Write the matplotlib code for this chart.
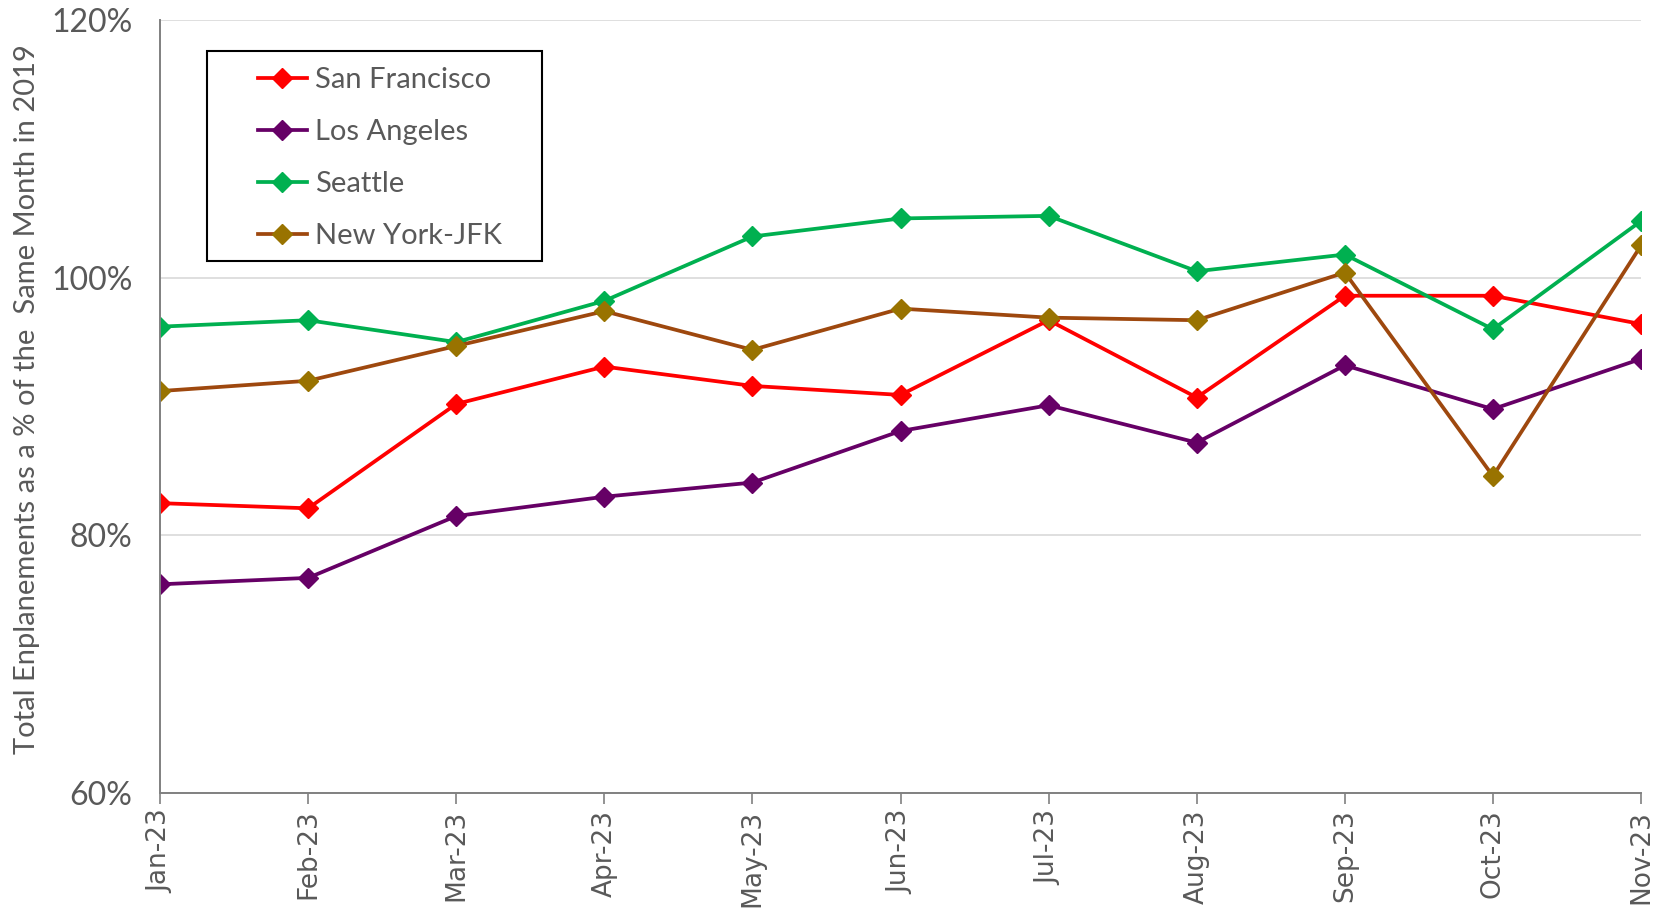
import matplotlib.pyplot as plt
from matplotlib.patches import Rectangle
from matplotlib.ticker import FuncFormatter

months = ["Jan-23", "Feb-23", "Mar-23", "Apr-23", "May-23", "Jun-23",
          "Jul-23", "Aug-23", "Sep-23", "Oct-23", "Nov-23"]
san_francisco = [82.5, 82.1, 90.2, 93.1, 91.6, 90.9, 96.7, 90.7, 98.6, 98.6, 96.4]
los_angeles = [76.2, 76.7, 81.5, 83.0, 84.1, 88.1, 90.1, 87.2, 93.2, 89.8, 93.7]
seattle = [96.2, 96.7, 95.0, 98.2, 103.2, 104.6, 104.8, 100.5, 101.8, 96.0, 104.4]
new_york = [91.2, 92.0, 94.7, 97.4, 94.4, 97.6, 96.9, 96.7, 100.4, 84.6, 102.5]

series = [
    ("San Francisco", san_francisco, "#FF0000", "#FF0000"),
    ("Los Angeles", los_angeles, "#660066", "#660066"),
    ("Seattle", seattle, "#00B050", "#00B050"),
    ("New York-JFK", new_york, "#9E480E", "#997300"),
]

text_font = ["Lato", "DejaVu Sans"]
grey = "#595959"

fig = plt.figure(figsize=(16.62, 9.11), dpi=100)
ax = fig.add_axes([0.0963, 0.1295, 0.8911, 0.8485])

x = list(range(len(months)))
for name, vals, lc, mc in series:
    ax.plot(x, vals, color=lc, lw=2.7, marker="D", markersize=10,
            markerfacecolor=mc, markeredgecolor=mc, label=name)

ax.set_xlim(0, len(months) - 1)
ax.set_ylim(60, 120)
ax.set_yticks([60, 80, 100, 120])
ax.yaxis.set_major_formatter(FuncFormatter(lambda v, p: f"{v:.0f}%"))
ax.grid(axis="y", color="#D9D9D9", lw=1.2)
ax.set_axisbelow(True)

ax.set_xticks(x)
ax.set_xticklabels(months, rotation=90, fontsize=19, color=grey)
for lab in ax.get_yticklabels():
    lab.set_family(text_font)
    lab.set_fontsize(23)
    lab.set_color(grey)

ax.tick_params(axis="y", length=0, pad=20)
ax.tick_params(axis="x", length=8, width=1.2, color="#808080", direction="out", pad=4)

for s in ["top", "right"]:
    ax.spines[s].set_visible(False)
for s in ["left", "bottom"]:
    ax.spines[s].set_color("#808080")
    ax.spines[s].set_linewidth(1.4)

ax.set_ylabel("Total Enplanements as a % of the  Same Month in 2019",
              family=text_font, fontsize=21, color=grey, labelpad=8)
ax.yaxis.label.set_y(0.51)

# legend box with wide side margins, like the original
ax.add_patch(Rectangle((0.0315, 0.6885), 0.2262, 0.2715, transform=ax.transAxes,
                       facecolor="white", edgecolor="black", lw=1.5, zorder=4))
leg = ax.legend(loc="upper left", bbox_to_anchor=(0.0659, 0.939),
                prop={"family": text_font, "size": 21},
                frameon=False, handlelength=1.7, handletextpad=0.28,
                labelspacing=0.89, borderpad=0, borderaxespad=0)
leg.set_zorder(5)
for t in leg.get_texts():
    t.set_color(grey)

fig.savefig("out.png", dpi=100)
